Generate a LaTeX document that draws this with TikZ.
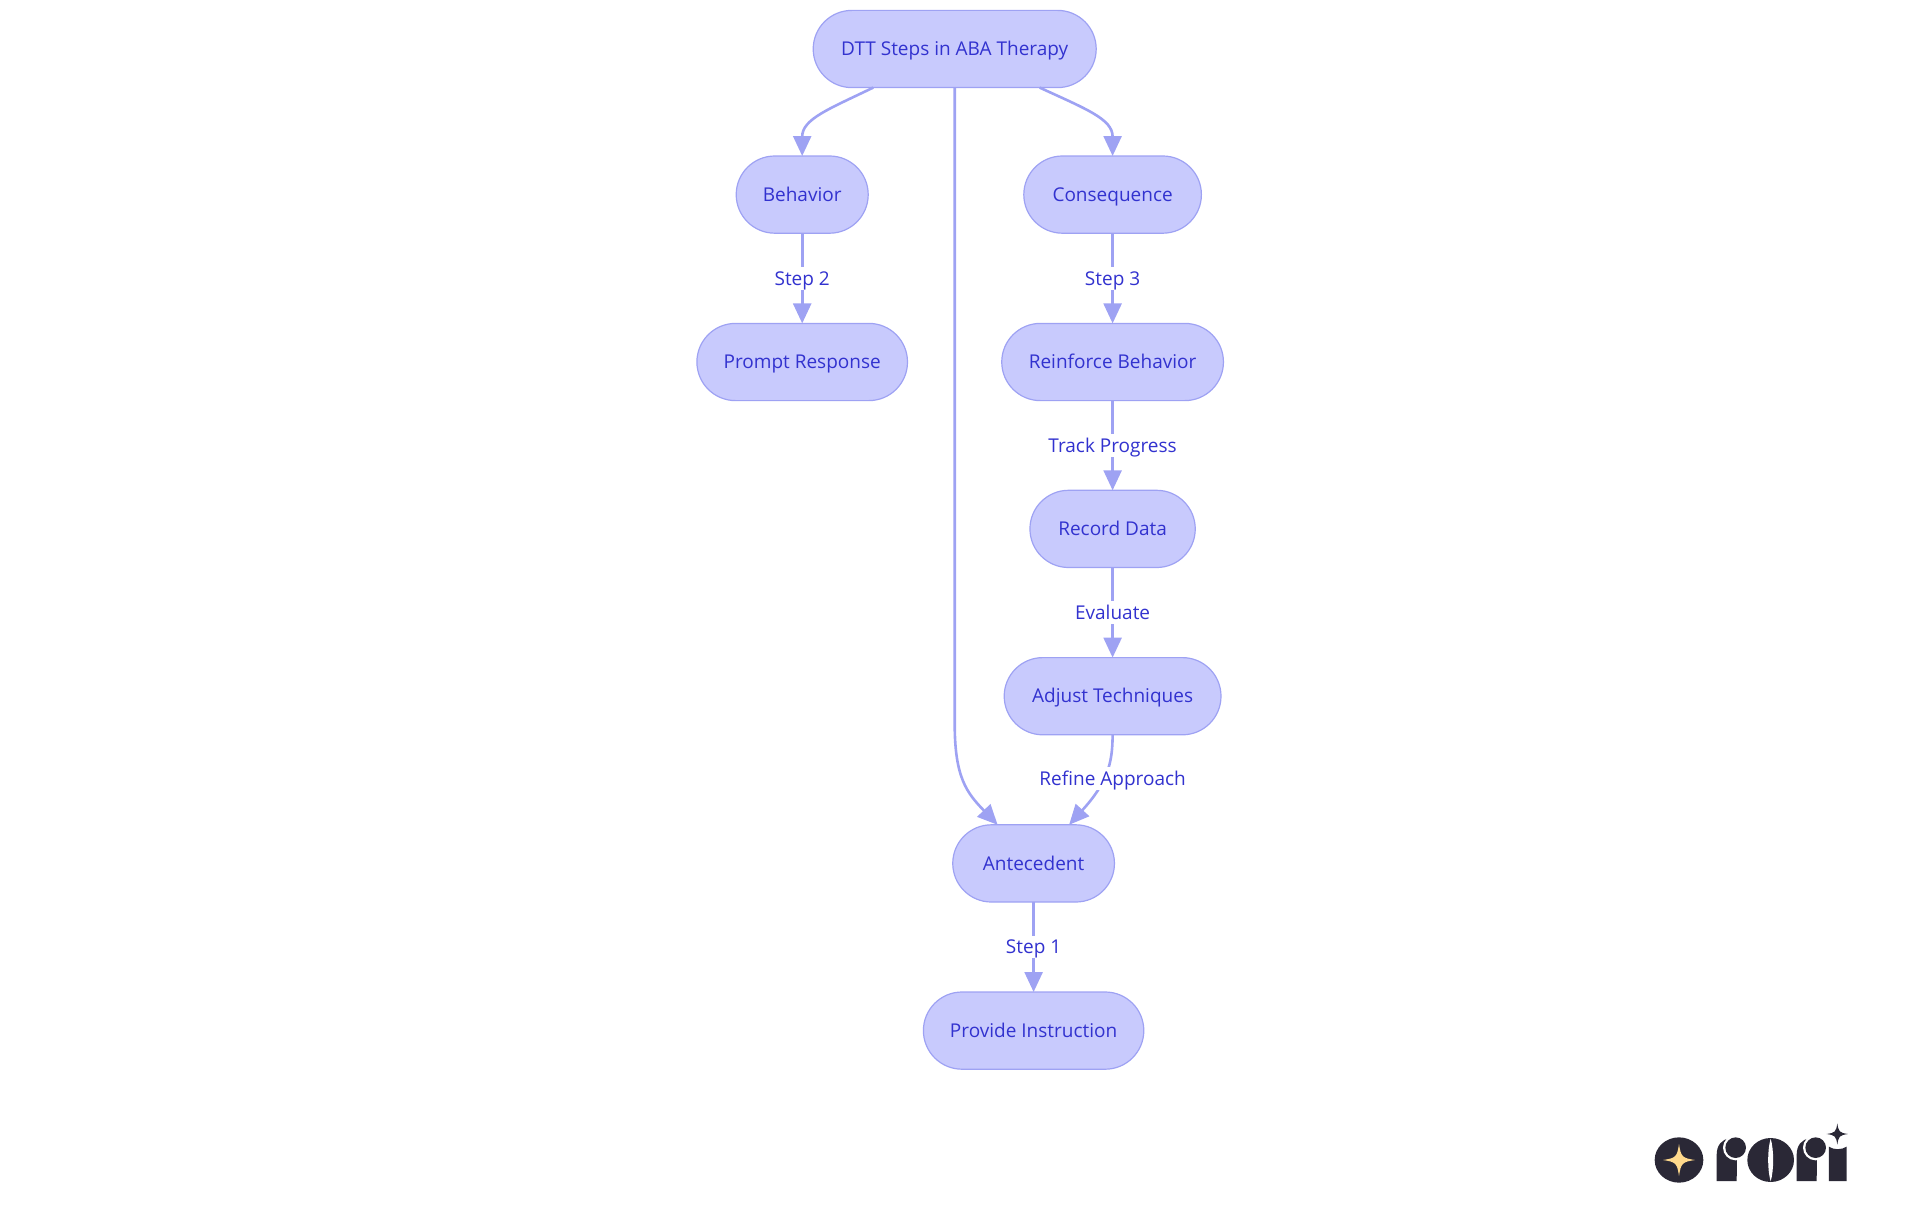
\documentclass[tikz,border=0pt]{standalone}
\usepackage{fontspec}
\setmainfont{Open Sans}
\usetikzlibrary{shapes.misc,arrows.meta,calc}
\definecolor{nfill}{HTML}{C8CAFD}
\definecolor{nline}{HTML}{9EA2F3}
\definecolor{ntext}{HTML}{3232CF}
\definecolor{logod}{HTML}{2A2836}
\definecolor{logos}{HTML}{FFD98C}
\tikzset{
  flow/.style={rounded rectangle,draw=nline,fill=nfill,line width=1.2pt,minimum height=77.2pt,inner sep=0pt,outer sep=0pt,text=ntext,text height=16pt,text depth=2.5pt,font=\fontsize{19}{23}\selectfont},
  edge/.style={draw=nline,line width=2.6pt,-{Triangle[length=20pt,width=18pt]}},
  lbl/.style={fill=white,text=ntext,inner sep=2pt,text height=16pt,text depth=2.5pt,font=\fontsize{19}{23}\selectfont},
  logofill/.style={fill=logod,draw=none},
}
\newcommand{\lstar}[4]{\fill[#4] (#1+#3,#2) .. controls (#1+0.2*#3,#2+0.12*#3) and (#1+0.12*#3,#2+0.2*#3) .. (#1,#2+#3) .. controls (#1-0.12*#3,#2+0.2*#3) and (#1-0.2*#3,#2+0.12*#3) .. (#1-#3,#2) .. controls (#1-0.2*#3,#2-0.12*#3) and (#1-0.12*#3,#2-0.2*#3) .. (#1,#2-#3) .. controls (#1+0.12*#3,#2-0.2*#3) and (#1+0.2*#3,#2-0.12*#3) .. cycle;}
\begin{document}
\begin{tikzpicture}[x=1pt,y=-1pt]
\useasboundingbox (0,0) rectangle (1920,1215);
\node[flow,minimum width=283pt] (root) at (954.7,49) {DTT Steps in ABA Therapy};
\node[flow,minimum width=132pt] (beh) at (802.2,194.6) {Behavior};
\node[flow,minimum width=177.6pt] (con) at (1112.6,194.6) {Consequence};
\node[flow,minimum width=210.6pt] (pro) at (802.2,362) {Prompt Response};
\node[flow,minimum width=221.7pt] (rei) at (1112.6,362) {Reinforce Behavior};
\node[flow,minimum width=165.3pt] (rec) at (1112.6,528.9) {Record Data};
\node[flow,minimum width=216.8pt] (adj) at (1112.6,696.2) {Adjust Techniques};
\node[flow,minimum width=161.7pt] (ant) at (1033.6,863.4) {Antecedent};
\node[flow,minimum width=220.4pt] (prv) at (1033.6,1030.6) {Provide Instruction};
\draw[edge] ($(root.south)+(-81.5,0)$) .. controls (829,109) and (802.2,119) .. (beh.north);
\draw[edge] ($(root.south)+(85,0)$) .. controls (1086,109) and (1112.6,119) .. (con.north);
\draw[edge] (root.south) -- (954.7,724) .. controls (954.7,778) and (967,793) .. ($(ant.north)+(-36,0)$);
\draw[edge] (adj.south) .. controls (1112.6,764) and (1107,783) .. ($(ant.north)+(35.5,0)$);
\draw[edge] (beh.south) -- node[lbl]{Step 2} (pro.north);
\draw[edge] (con.south) -- node[lbl]{Step 3} (rei.north);
\draw[edge] (rei.south) -- node[lbl]{Track Progress} (rec.north);
\draw[edge] (rec.south) -- node[lbl]{Evaluate} (adj.north);
\draw[edge] (ant.south) -- node[lbl]{Step 1} (prv.north);
\node[lbl] (refine) at (1112.6,778.3) {Refine Approach};
\begin{scope}[shift={(1620,1100)},x=0.3333pt,y=-0.3333pt]
\fill[logod] (177,180) ellipse [x radius=73,y radius=68];
\lstar{177}{180}{48}{logos}
\fill[logofill] (290,243) -- (290,165) .. controls (290,135) and (305,118) .. (330,115) -- (352,115) -- (350,243) -- cycle;
\fill[white] (347,143) circle [radius=38];
\fill[logod] (347,143) circle [radius=31];
\fill[logod] (452,180) ellipse [x radius=70,y radius=66];
\fill[white] (452,116) .. controls (442,150) and (442,210) .. (452,244) .. controls (462,210) and (462,150) .. (452,116) -- cycle;
\fill[logofill] (530,243) -- (530,165) .. controls (530,135) and (545,118) .. (570,115) -- (592,115) -- (590,243) -- cycle;
\fill[white] (587,143) circle [radius=38];
\fill[logod] (587,143) circle [radius=31];
\fill[logofill] (627,243) -- (627,140) .. controls (640,150) and (665,150) .. (680,140) -- (680,243) -- cycle;
\lstar{652}{102}{32}{logod}
\end{scope}
\end{tikzpicture}
\end{document}
